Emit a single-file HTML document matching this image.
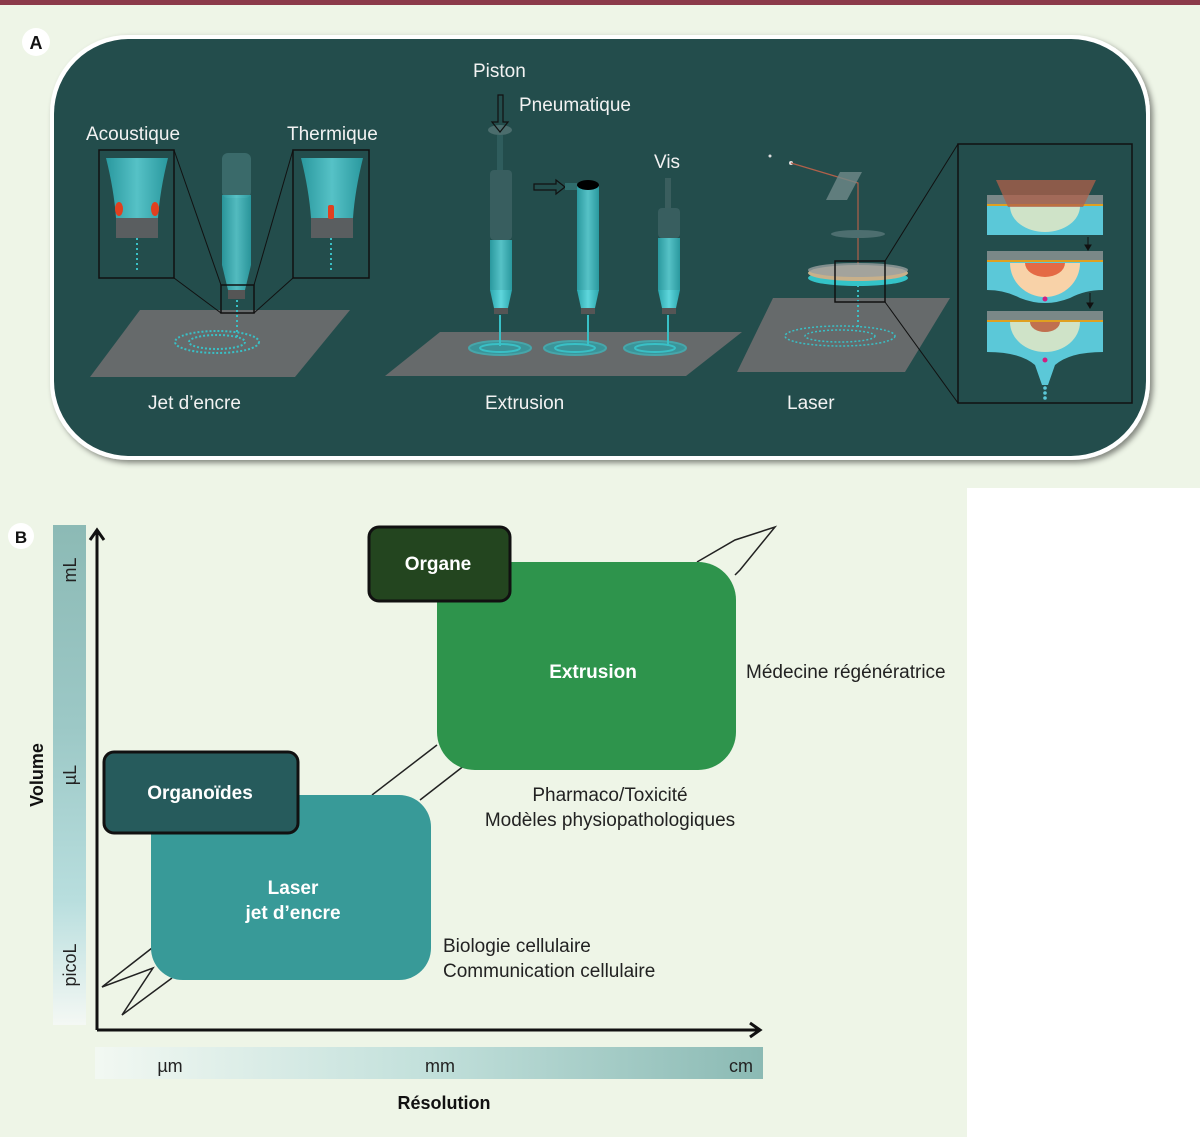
<!DOCTYPE html>
<html><head><meta charset="utf-8"><style>
html,body{margin:0;padding:0;background:#eef5e7;}
svg{display:block}
text{font-family:"Liberation Sans",sans-serif}
</style></head><body>
<svg width="1200" height="1137" viewBox="0 0 1200 1137" xmlns="http://www.w3.org/2000/svg">
<defs>
<linearGradient id="vg" x1="0" y1="1" x2="0" y2="0">
<stop offset="0" stop-color="#f4f8f4"/><stop offset="0.25" stop-color="#b8dede"/><stop offset="0.6" stop-color="#9cc8c6"/><stop offset="1" stop-color="#8cbab5"/></linearGradient>
<linearGradient id="hg" x1="0" y1="0" x2="1" y2="0">
<stop offset="0" stop-color="#f2f8f2"/><stop offset="0.5" stop-color="#c2e0db"/><stop offset="1" stop-color="#8bbab4"/></linearGradient>
<linearGradient id="cy" x1="0" y1="0" x2="1" y2="0">
<stop offset="0" stop-color="#2ba6ad"/><stop offset="0.5" stop-color="#5fd6dc"/><stop offset="1" stop-color="#2ba6ad"/></linearGradient>
<filter id="sh" x="-5%" y="-5%" width="110%" height="115%"><feDropShadow dx="3" dy="3" stdDeviation="3" flood-color="#000" flood-opacity="0.45"/></filter>
</defs>
<rect width="1200" height="1137" fill="#eef5e7"/>
<rect x="0" y="0" width="1200" height="5" fill="#8b3a4a"/>
<rect x="967" y="488" width="233" height="649" fill="#ffffff"/>

<rect x="50" y="35" width="1100" height="425" rx="78" fill="#ffffff" filter="url(#sh)"/>
<rect x="54" y="39" width="1092" height="417" rx="75" fill="#234d4c"/>
<circle cx="36" cy="42" r="14" fill="#fff"/>
<text x="36" y="49" font-size="18" font-weight="bold" text-anchor="middle" fill="#111">A</text>

<g fill="#f2f2f2" font-size="19">
<text x="86" y="140">Acoustique</text>
<text x="287" y="140">Thermique</text>
<text x="473" y="77">Piston</text>
<text x="519" y="111">Pneumatique</text>
<text x="654" y="168">Vis</text>
<text x="148" y="409">Jet d’encre</text>
<text x="485" y="409">Extrusion</text>
<text x="787" y="409">Laser</text>
</g>

<polygon points="90,377 140,310 350,310 295,377" fill="#666a6b"/>
<polygon points="385,376 440,332 742,332 686,376" fill="#666a6b"/>
<polygon points="737,372 773,298 950,298 905,372" fill="#666a6b"/>

<ellipse cx="217" cy="342" rx="42" ry="11" fill="none" stroke="#39c0c6" stroke-width="2" stroke-dasharray="2,2"/>
<ellipse cx="217" cy="342" rx="28" ry="7" fill="none" stroke="#39c0c6" stroke-width="2" stroke-dasharray="2,2"/>
<line x1="237" y1="300" x2="237" y2="340" stroke="#39c0c6" stroke-width="2" stroke-dasharray="2,3"/>
<rect x="222" y="153" width="29" height="45" rx="6" fill="#3a6a6a"/>
<rect x="222" y="195" width="29" height="70" fill="url(#cy)" opacity="0.8"/>
<polygon points="222,265 251,265 245,290 228,290" fill="url(#cy)" opacity="0.8"/>
<rect x="228" y="290" width="17" height="9" fill="#555"/>
<rect x="221" y="285" width="33" height="28" fill="none" stroke="#111" stroke-width="1.5"/>
<line x1="174" y1="278" x2="221" y2="313" stroke="#111"/><line x1="174" y1="150" x2="221" y2="285" stroke="#111"/>
<line x1="293" y1="278" x2="254" y2="313" stroke="#111"/><line x1="293" y1="150" x2="254" y2="285" stroke="#111"/>
<g>
<rect x="99" y="150" width="75" height="128" fill="#234d4c" stroke="#111" stroke-width="1.5"/>
<path d="M106,158 L168,158 Q160,190 158,218 L116,218 Q114,190 106,158 Z" fill="url(#cy)" opacity="0.85"/>
<rect x="116" y="218" width="42" height="20" fill="#5a5e60"/>
<ellipse cx="119" cy="209" rx="4" ry="7" fill="#e0401f"/><ellipse cx="155" cy="209" rx="4" ry="7" fill="#e0401f"/>
<line x1="137" y1="238" x2="137" y2="272" stroke="#39c0c6" stroke-width="2" stroke-dasharray="2,3"/>
</g>
<g>
<rect x="293" y="150" width="76" height="128" fill="#234d4c" stroke="#111" stroke-width="1.5"/>
<path d="M301,158 L363,158 Q355,190 353,218 L311,218 Q309,190 301,158 Z" fill="url(#cy)" opacity="0.85"/>
<rect x="311" y="218" width="42" height="20" fill="#5a5e60"/>
<rect x="328" y="205" width="6" height="14" rx="2" fill="#e0401f"/>
<line x1="331" y1="238" x2="331" y2="272" stroke="#39c0c6" stroke-width="2" stroke-dasharray="2,3"/>
</g>

<g fill="none" stroke="#39c0c6" stroke-width="2">
<ellipse cx="500" cy="348" rx="31" ry="7" fill="#2aa6ad" opacity="0.7"/><ellipse cx="500" cy="348" rx="20" ry="4"/>
<ellipse cx="575" cy="348" rx="31" ry="7" fill="#2aa6ad" opacity="0.7"/><ellipse cx="575" cy="348" rx="20" ry="4"/>
<ellipse cx="655" cy="348" rx="31" ry="7" fill="#2aa6ad" opacity="0.7"/><ellipse cx="655" cy="348" rx="20" ry="4"/>
<line x1="500" y1="315" x2="500" y2="346"/><line x1="588" y1="315" x2="588" y2="346"/><line x1="668" y1="315" x2="668" y2="346"/>
</g>
<ellipse cx="500" cy="130" rx="12" ry="5" fill="#4b6d6d"/>
<rect x="497" y="135" width="6" height="35" fill="#2f5d5d"/>
<rect x="490" y="170" width="22" height="70" rx="4" fill="#385e5f"/>
<rect x="490" y="240" width="22" height="50" fill="url(#cy)" opacity="0.85"/>
<polygon points="490,290 512,290 508,308 494,308" fill="url(#cy)"/>
<rect x="494" y="308" width="14" height="6" fill="#555"/>
<polygon points="498,95 503,95 503,122 508,122 500,132 492,122 498,122" fill="none" stroke="#111" stroke-width="1.2"/>
<rect x="577" y="186" width="22" height="105" fill="url(#cy)" opacity="0.85"/>
<ellipse cx="588" cy="185" rx="11" ry="5" fill="#000"/>
<polygon points="577,290 599,290 595,308 581,308" fill="url(#cy)"/>
<rect x="581" y="308" width="14" height="6" fill="#555"/>
<polygon points="534,184 556,184 556,180 565,187 556,194 556,190 534,190" fill="none" stroke="#111" stroke-width="1.2"/>
<rect x="565" y="183" width="12" height="7" fill="#2f6d6d"/>
<rect x="665" y="178" width="6" height="40" fill="#3a5e5e"/>
<rect x="658" y="208" width="22" height="30" rx="4" fill="#385e5f"/>
<rect x="658" y="238" width="22" height="52" fill="url(#cy)" opacity="0.85"/>
<polygon points="658,290 680,290 676,308 662,308" fill="url(#cy)"/>
<rect x="662" y="308" width="14" height="6" fill="#555"/>

<circle cx="770" cy="156" r="1.5" fill="#ddd"/><circle cx="791" cy="163" r="2" fill="#ddd"/>
<polyline points="791,163 858,183 858,275" fill="none" stroke="#b0604a" stroke-width="1.2"/>
<polygon points="840,172 862,172 847,200 826,200" fill="#6f8a89" opacity="0.8"/>
<ellipse cx="858" cy="234" rx="27" ry="4" fill="#4d6e6f"/>
<ellipse cx="858" cy="278" rx="50" ry="8" fill="#34c3c8"/>
<ellipse cx="858" cy="273" rx="50" ry="8" fill="#c8b08a"/>
<ellipse cx="858" cy="270" rx="50" ry="7" fill="#9aa0a0" opacity="0.8"/>
<line x1="858" y1="285" x2="858" y2="330" stroke="#39c0c6" stroke-width="2" stroke-dasharray="2,3"/>
<ellipse cx="840" cy="336" rx="55" ry="10" fill="none" stroke="#39c0c6" stroke-width="1.5" stroke-dasharray="2,2"/>
<ellipse cx="840" cy="336" rx="35" ry="6" fill="none" stroke="#39c0c6" stroke-width="1.5" stroke-dasharray="2,2"/>
<rect x="835" y="261" width="50" height="41" fill="none" stroke="#111" stroke-width="1.5"/>
<line x1="885" y1="261" x2="958" y2="144" stroke="#111"/><line x1="885" y1="302" x2="958" y2="403" stroke="#111"/>
<rect x="958" y="144" width="174" height="259" fill="#234d4c" stroke="#111" stroke-width="1.5"/>
<rect x="987" y="205" width="116" height="30" fill="#5bc8d8"/>
<path d="M1010,206 A35,26 0 0 0 1080,206 Z" fill="#cfe3c8"/>
<rect x="987" y="195" width="116" height="9" fill="#7a8888"/>
<rect x="987" y="204" width="116" height="2" fill="#e0a020"/>
<polygon points="996,180 1096,180 1083,207 1008,207" fill="#b0604a" opacity="0.75"/>
<path d="M987,262 H1103 V290 Q1085,290 1070,298 Q1045,308 1020,298 Q1005,290 987,290 Z" fill="#5bc8d8"/>
<path d="M1010,263 A35,34 0 0 0 1080,263 Z" fill="#f8d2a8"/>
<path d="M1025,263 A20,14 0 0 0 1065,263 Z" fill="#e46a45"/>
<rect x="987" y="251" width="116" height="9" fill="#7a8888"/>
<rect x="987" y="260" width="116" height="2" fill="#e0a020"/>
<circle cx="1045" cy="299" r="2.5" fill="#d02080"/>
<path d="M987,322 H1103 V352 Q1070,352 1055,365 L1048,385 L1042,385 L1035,365 Q1020,352 987,352 Z" fill="#5bc8d8"/>
<path d="M1010,322 A35,30 0 0 0 1080,322 Z" fill="#cfe3c8"/>
<path d="M1030,322 A15,10 0 0 0 1060,322 Z" fill="#c0704f"/>
<rect x="987" y="311" width="116" height="9" fill="#7a8888"/>
<rect x="987" y="320" width="116" height="2" fill="#e0a020"/>
<circle cx="1045" cy="360" r="2.5" fill="#d02080"/>
<circle cx="1045" cy="388" r="1.8" fill="#5bc8d8"/><circle cx="1045" cy="393" r="1.8" fill="#5bc8d8"/><circle cx="1045" cy="398" r="1.8" fill="#5bc8d8"/>
<g stroke="#111" fill="#111"><line x1="1088" y1="237" x2="1088" y2="246"/><polygon points="1085,245 1091,245 1088,250"/>
<line x1="1090" y1="293" x2="1090" y2="304"/><polygon points="1087,303 1093,303 1090,308"/></g>

<circle cx="21" cy="536" r="13" fill="#fff"/>
<text x="21" y="543" font-size="17" font-weight="bold" text-anchor="middle" fill="#111">B</text>
<rect x="53" y="525" width="33" height="500" fill="url(#vg)"/>
<rect x="95" y="1047" width="668" height="32" fill="url(#hg)"/>
<g fill="#222" font-size="18">
<text transform="translate(76,570) rotate(-90)" text-anchor="middle">mL</text>
<text transform="translate(76,775) rotate(-90)" text-anchor="middle">µL</text>
<text transform="translate(76,965) rotate(-90)" text-anchor="middle">picoL</text>
<text x="170" y="1072" text-anchor="middle">µm</text>
<text x="440" y="1072" text-anchor="middle">mm</text>
<text x="741" y="1072" text-anchor="middle">cm</text>
</g>
<text transform="translate(43,775) rotate(-90)" text-anchor="middle" font-size="18" font-weight="bold" fill="#111">Volume</text>
<text x="444" y="1109" text-anchor="middle" font-size="18" font-weight="bold" fill="#111">Résolution</text>

<g fill="none" stroke="#222" stroke-width="1.5">
<polyline points="152,948 102,987 153,968 122,1015 172,978"/>
<line x1="372" y1="795" x2="437" y2="745"/>
<line x1="420" y1="800" x2="465" y2="765"/>
<polyline points="697,562 735,540 775,527 740,570 735,575"/>
</g>

<g stroke="#111" stroke-width="3" fill="none">
<line x1="97" y1="1030" x2="97" y2="532"/>
<polyline points="90,540 97,530 104,540"/>
<line x1="97" y1="1030" x2="758" y2="1030"/>
<polyline points="750,1023 760,1030 750,1037"/>
</g>

<rect x="437" y="562" width="299" height="208" rx="38" fill="#2e944c"/>
<rect x="369" y="527" width="141" height="74" rx="10" fill="#23451f" stroke="#111" stroke-width="3"/>
<rect x="151" y="795" width="280" height="185" rx="32" fill="#389a98"/>
<rect x="104" y="752" width="194" height="81" rx="10" fill="#265b5c" stroke="#111" stroke-width="3"/>

<g fill="#fff" font-size="19" font-weight="bold" text-anchor="middle">
<text x="438" y="570">Organe</text>
<text x="593" y="678">Extrusion</text>
<text x="200" y="799">Organoïdes</text>
<text x="293" y="894">Laser</text>
<text x="293" y="919">jet d’encre</text>
</g>
<g fill="#222" font-size="19">
<text x="746" y="678">Médecine régénératrice</text>
<text x="610" y="801" text-anchor="middle">Pharmaco/Toxicité</text>
<text x="610" y="826" text-anchor="middle">Modèles physiopathologiques</text>
<text x="443" y="952">Biologie cellulaire</text>
<text x="443" y="977">Communication cellulaire</text>
</g>
</svg>
</body></html>
